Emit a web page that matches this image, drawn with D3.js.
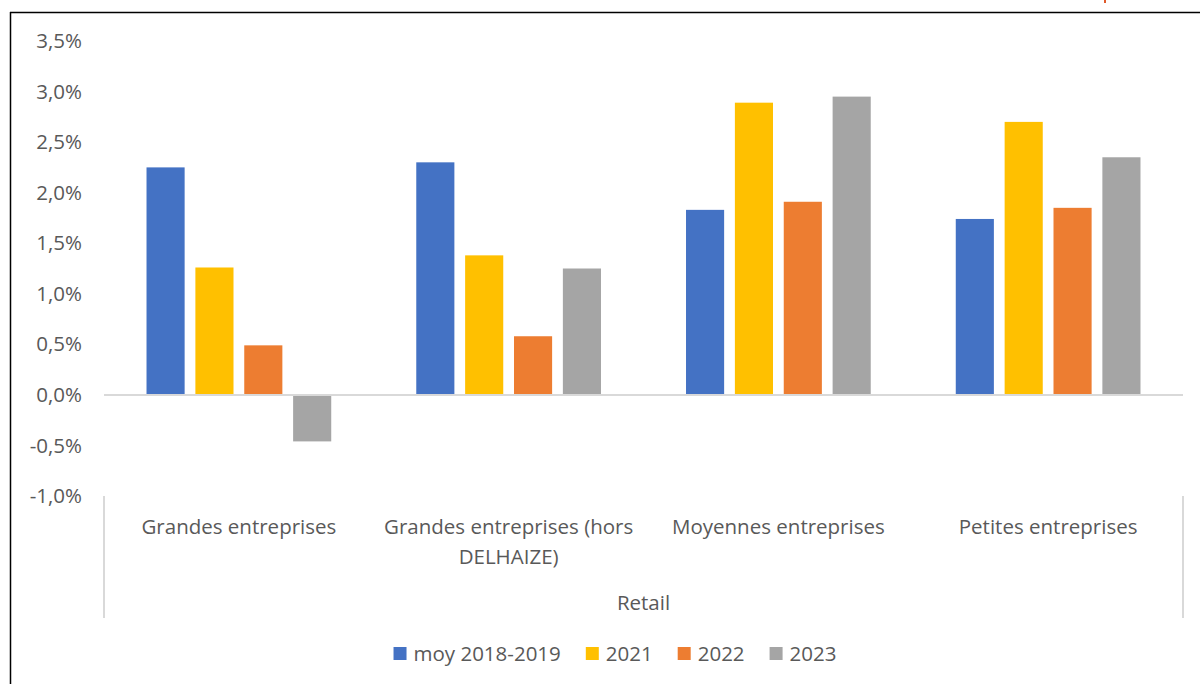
<!DOCTYPE html>
<html>
<head>
<meta charset="utf-8">
<script src="https://cdn.jsdelivr.net/npm/d3@7"></script>
<style>
body { margin: 0; background: #fff; }
text { font-family: "Open Sans", sans-serif; fill: #595959; }
.tick text { font-size: 20.5px; }
.cat { font-size: 20.5px; }
.leg { font-size: 20.5px; }
</style>
</head>
<body>
<script>
var categories = ["Grandes entreprises", "Grandes entreprises (hors DELHAIZE)", "Moyennes entreprises", "Petites entreprises"];
var catLines = [["Grandes entreprises"], ["Grandes entreprises (hors", "DELHAIZE)"], ["Moyennes entreprises"], ["Petites entreprises"]];
var series = ["moy 2018-2019", "2021", "2022", "2023"];
var colors = ["#4472c4", "#ffc000", "#ed7d31", "#a5a5a5"];
var moy = [2.25, 2.30, 1.83, 1.74];
var y2021 = [1.26, 1.38, 2.89, 2.70];
var y2022 = [0.49, 0.58, 1.91, 1.85];
var y2023 = [-0.46, 1.25, 2.95, 2.35];
var yTicks = [-1, -0.5, 0, 0.5, 1, 1.5, 2, 2.5, 3, 3.5];
var groupLabel = "Retail";

var values = [moy, y2021, y2022, y2023];
var W = 1200, H = 684;
var mLeft = 104, mRight = 1183, mTop = 41, mBottom = 496;

var svg = d3.select("body").append("svg")
    .attr("width", W)
    .attr("height", H);

// frame (top and left only, the picture is cropped)
svg.append("line").attr("x1", 10).attr("x2", W).attr("y1", 12.5).attr("y2", 12.5)
    .attr("stroke", "#000").attr("stroke-width", 1.5);
svg.append("line").attr("x1", 10.5).attr("x2", 10.5).attr("y1", 12).attr("y2", H)
    .attr("stroke", "#000").attr("stroke-width", 1.5);
svg.append("rect").attr("x", 1104).attr("y", 0).attr("width", 2).attr("height", 3).attr("fill", "#e0592a");

var x0 = d3.scaleBand().domain(categories).range([mLeft, mRight]).padding(0);
var x1 = d3.scaleBand().domain(series).range([0, x0.bandwidth()])
    .paddingInner(0.22).paddingOuter(0.87);
var y = d3.scaleLinear().domain([-1, 3.5]).range([mBottom, mTop]);

var fmt = function(d) { return d3.format(".1f")(d).replace(".", ",").replace("−", "-") + "%"; };

var yAxis = svg.append("g")
    .attr("transform", "translate(" + 82 + ",0)")
    .call(d3.axisLeft(y).tickValues(yTicks).tickFormat(fmt).tickSize(0).tickPadding(0));
yAxis.select(".domain").remove();
yAxis.selectAll("text").attr("fill", "#595959").attr("font-family", null).attr("font-size", null);
yAxis.attr("font-family", null).attr("font-size", null);

// bars
var groups = svg.selectAll("g.grp")
    .data(categories)
  .enter().append("g")
    .attr("class", "grp")
    .attr("transform", function(d) { return "translate(" + x0(d) + ",0)"; });

groups.selectAll("rect")
    .data(function(d, i) { return series.map(function(s, j) { return {s: s, v: values[j][i], c: colors[j]}; }); })
  .enter().append("rect")
    .attr("x", function(d) { return x1(d.s); })
    .attr("width", x1.bandwidth())
    .attr("y", function(d) { return y(Math.max(0, d.v)); })
    .attr("height", function(d) { return Math.abs(y(d.v) - y(0)); })
    .attr("fill", function(d) { return d.c; });

// zero line
svg.append("line")
    .attr("x1", mLeft).attr("x2", mRight)
    .attr("y1", y(0)).attr("y2", y(0))
    .attr("stroke", "#d9d9d9").attr("stroke-width", 2);

// category axis separators
[mLeft, mRight].forEach(function(xx) {
  svg.append("line").attr("x1", xx).attr("x2", xx).attr("y1", mBottom).attr("y2", 618)
      .attr("stroke", "#d9d9d9").attr("stroke-width", 2);
});

categories.forEach(function(c, i) {
  var t = svg.append("text").attr("class", "cat")
      .attr("x", x0(c) + x0.bandwidth() / 2)
      .attr("y", 527)
      .attr("text-anchor", "middle");
  catLines[i].forEach(function(l, k) {
    t.append("tspan").attr("x", x0(c) + x0.bandwidth() / 2)
        .attr("dy", k === 0 ? "0.35em" : 30).text(l);
  });
});

svg.append("text").attr("class", "cat")
    .attr("x", (mLeft + mRight) / 2).attr("y", 603)
    .attr("dy", "0.35em").attr("text-anchor", "middle").text(groupLabel);

// legend
var leg = svg.append("g");
var lx = 0;
series.forEach(function(s, j) {
  leg.append("rect").attr("x", lx).attr("y", 647).attr("width", 13).attr("height", 13).attr("fill", colors[j]);
  var t = leg.append("text").attr("class", "leg").attr("x", lx + 20).attr("y", 654)
      .attr("dy", "0.35em").text(s);
  lx += 20 + t.node().getComputedTextLength() + 25;
});
lx -= 25;
leg.attr("transform", "translate(" + (615 - lx / 2) + ",0)");
</script>
</body>
</html>
